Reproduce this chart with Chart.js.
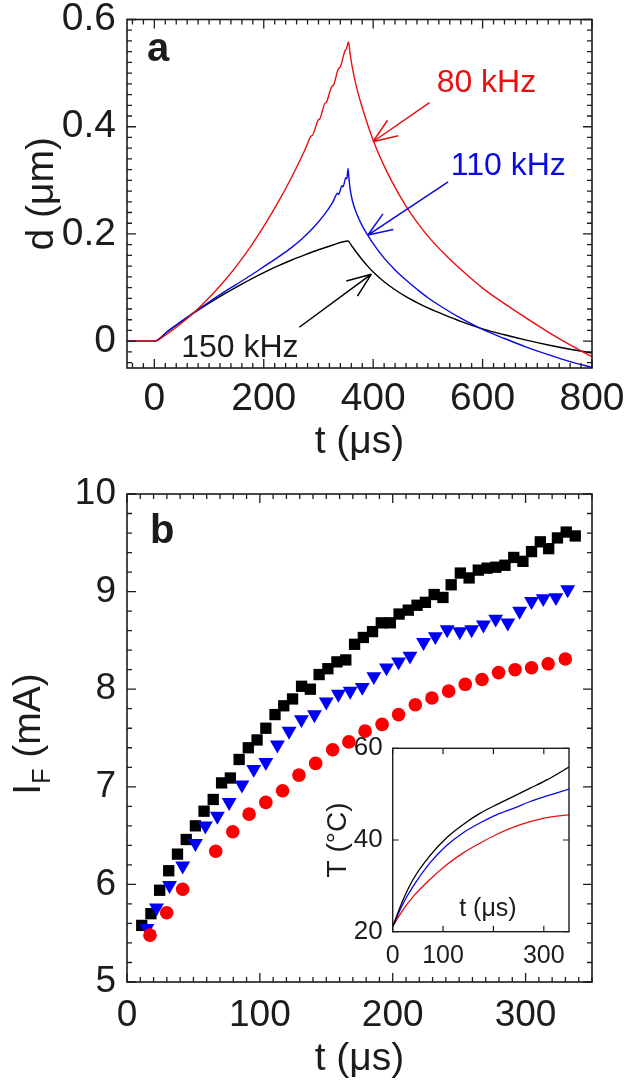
<!DOCTYPE html>
<html><head><meta charset="utf-8">
<script src="https://cdn.jsdelivr.net/npm/chart.js@4.4.1/dist/chart.umd.min.js"></script>
<style>
html,body{margin:0;padding:0;background:#fff;}
#wrap{position:relative;width:625px;height:1083px;overflow:hidden;background:#fff;}
canvas{position:absolute;}
</style></head><body>
<div id="wrap">
<canvas id="ca" width="625" height="470" style="left:0;top:0"></canvas>
<canvas id="cb" width="625" height="613" style="left:0;top:470px"></canvas>
<canvas id="ci" width="290" height="270" style="left:300px;top:720px"></canvas>
</div>
<script>
// ---------------- Panel a : displacement d (µm) vs t (µs) ----------------
const tRedA  = [-50, 0, 25, 50, 75, 100, 125, 150, 175, 200, 225, 250, 275, 287, 289, 300, 302, 312, 314, 325, 327, 337, 339, 349, 351, 355, 358, 362, 370, 380, 400, 420, 440, 460, 480, 500, 530, 560, 600, 640, 680, 720, 760, 800];
const dRedA  = [0, 0, 0.015, 0.034, 0.056, 0.081, 0.109, 0.14, 0.175, 0.214, 0.257, 0.304, 0.356, 0.383, 0.384, 0.413, 0.414, 0.444, 0.445, 0.476, 0.477, 0.509, 0.510, 0.543, 0.545, 0.558, 0.535, 0.51, 0.472, 0.436, 0.375, 0.327, 0.287, 0.252, 0.222, 0.196, 0.163, 0.134, 0.099, 0.07, 0.043, 0.017, -0.007, -0.029];
const tBlueA = [-50, 0, 25, 50, 75, 100, 125, 150, 175, 200, 225, 250, 270, 290, 310, 326, 335, 337, 343, 345, 350, 352, 354, 356, 358, 362, 369, 380, 390, 400, 420, 440, 460, 480, 500, 530, 560, 600, 640, 680, 720, 760, 800];
const dBlueA = [0, 0, 0.019, 0.0375, 0.0555, 0.073, 0.09, 0.106, 0.122, 0.139, 0.156, 0.174, 0.191, 0.211, 0.235, 0.259, 0.276, 0.274, 0.29, 0.288, 0.305, 0.303, 0.322, 0.3, 0.283, 0.262, 0.24, 0.215, 0.198, 0.182, 0.155, 0.133, 0.114, 0.097, 0.081, 0.061, 0.043, 0.022, 0.005, -0.011, -0.025, -0.038, -0.049];
const tBlackA = [-50, 0, 25, 50, 75, 100, 125, 150, 175, 200, 225, 250, 275, 300, 325, 354, 360, 370, 380, 390, 400, 420, 440, 460, 480, 500, 530, 560, 600, 640, 680, 720, 760, 800];
const dBlackA = [0, 0, 0.019, 0.037, 0.0545, 0.071, 0.0865, 0.101, 0.115, 0.128, 0.14, 0.151, 0.161, 0.1705, 0.179, 0.187, 0.179, 0.165, 0.152, 0.14, 0.129, 0.111, 0.096, 0.083, 0.072, 0.062, 0.049, 0.037, 0.023, 0.012, 0.002, -0.007, -0.015, -0.022];
const xTicksA = [0, 200, 400, 600, 800];
const yTicksA = [0, 0.2, 0.4, 0.6];
const yTickLabelsA = ['0', '0.2', '0.4', '0.6'];
const freqLabels = ['80 kHz', '110 kHz', '150 kHz'];

// ---------------- Panel b : I_F (mA) vs t (µs) ----------------
const tSquares = [11.1, 18, 24.6, 31.4, 38, 44.6, 51.5, 58, 64.9, 71.2, 77.8, 84.4, 91.3, 97.9, 104.5, 111.4, 118, 124.6, 131.4, 138, 144.6, 151.2, 158, 164.7, 171.3, 177.9, 184.8, 191.4, 198.2, 204.8, 211.7, 218.3, 224.6, 231.2, 237.8, 244, 250.9, 257.5, 264.4, 271, 277.6, 284.5, 291.1, 298, 304.5, 311.1, 317.4, 324, 330.6, 337.4];
const iSquares = [5.58, 5.70, 5.94, 6.14, 6.31, 6.46, 6.60, 6.75, 6.87, 7.04, 7.09, 7.28, 7.40, 7.48, 7.60, 7.74, 7.83, 7.90, 8.03, 8.00, 8.15, 8.21, 8.28, 8.30, 8.46, 8.53, 8.59, 8.68, 8.68, 8.77, 8.81, 8.86, 8.89, 8.97, 8.94, 9.07, 9.19, 9.14, 9.22, 9.24, 9.25, 9.27, 9.35, 9.31, 9.41, 9.51, 9.44, 9.55, 9.61, 9.57];
const tTriangles = [15, 22.2, 32, 41.9, 51.5, 59, 68, 76.9, 86.5, 95.4, 104.5, 113.2, 122, 131.3, 141.1, 150, 159.1, 168, 177.1, 185.8, 195.3, 204.4, 213, 223.2, 232.1, 241, 250.5, 259.4, 268.3, 277.5, 286.6, 295.5, 304.5, 313.3, 322.8, 331.7];
const iTriangles = [5.55, 5.76, 5.99, 6.19, 6.42, 6.60, 6.70, 6.84, 7.02, 7.18, 7.25, 7.43, 7.57, 7.69, 7.74, 7.87, 7.95, 7.98, 8.02, 8.13, 8.22, 8.28, 8.34, 8.48, 8.54, 8.61, 8.59, 8.61, 8.66, 8.72, 8.68, 8.80, 8.90, 8.93, 8.94, 9.02];
const tCircles = [17.3, 29.9, 41.9, 66.8, 79.6, 91.9, 104.5, 117.1, 129.4, 142, 154.8, 167, 179.2, 192, 204.4, 217, 229.5, 242.1, 254.6, 267.2, 279.7, 292.1, 304.5, 317, 329.9];
const iCircles = [5.48, 5.71, 5.95, 6.34, 6.54, 6.72, 6.84, 6.96, 7.12, 7.24, 7.38, 7.46, 7.57, 7.64, 7.74, 7.84, 7.91, 7.98, 8.05, 8.10, 8.17, 8.20, 8.22, 8.26, 8.31];
const xTicksB = [0, 100, 200, 300];
const yTicksB = [5, 6, 7, 8, 9, 10];

// ---------------- Inset : T (°C) vs t (µs) ----------------
const tInset = [0, 20, 41, 74, 107, 140, 173, 206, 240, 273, 306, 350];
const TBlackIn = [21.1, 26.8, 31.5, 36.6, 40.5, 43.4, 45.8, 47.7, 49.5, 51.3, 53.1, 55.9];
const TBlueIn  = [21.1, 26.0, 30.0, 35.0, 38.8, 41.6, 43.7, 45.5, 46.9, 48.4, 49.6, 51.1];
const TRedIn   = [21.1, 24.7, 27.7, 31.4, 34.6, 37.2, 39.3, 41.2, 42.8, 44.0, 44.9, 45.5];
const xTicksIn = [0, 100, 200, 300];
const xTickLabelsIn = ['0', '100', '', '300'];
const yTicksIn = [20, 40, 60];

// ---------------- helpers & styles ----------------
const FAM = '"Liberation Sans", Arial, Helvetica, sans-serif';
const INK = '#1c1c1c';
const RED_LINE = 'rgb(232,16,16)', BLUE_LINE = 'rgb(10,10,225)', BLACK_LINE = '#000';
const RED_MK = 'rgb(250,0,0)', BLUE_MK = 'rgb(0,0,250)', BLACK_MK = '#000';
const pts = (xs, ys) => xs.map((v, i) => ({x: v, y: ys[i]}));
const setTicks = vals => s => { s.ticks = vals.map(v => ({value: v})); };
const fixBox = (w, h) => s => {
  if (w != null) s.width = w;
  if (h != null) s.height = h;
  s.paddingLeft = 0; s.paddingRight = 0; s.paddingTop = 0; s.paddingBottom = 0;
};

const framePlugin = {
  id: 'frame',
  afterDatasetsDraw(chart, args, o) {
    const {ctx, chartArea: a, scales: {x, y}} = chart;
    const near = (v, arr) => arr.some(m => Math.abs(m - v) < 1e-6);
    const collect = (scale, step) => {
      const maj = scale.ticks.map(t => t.value);
      const out = maj.map(v => [v, o.major]);
      if (step) {
        for (let k = Math.ceil(scale.min / step - 1e-6); k * step <= scale.max + 1e-9; k++) {
          const v = k * step;
          if (!near(v, maj)) out.push([v, o.minor]);
        }
      }
      return out;
    };
    ctx.save();
    ctx.strokeStyle = INK;
    ctx.lineWidth = o.tickWidth;
    ctx.beginPath();
    collect(x, o.xMinor).forEach(([v, len]) => {
      const p = x.getPixelForValue(v);
      ctx.moveTo(p, a.bottom); ctx.lineTo(p, a.bottom - len);
      ctx.moveTo(p, a.top); ctx.lineTo(p, a.top + len);
    });
    collect(y, o.yMinor).forEach(([v, len]) => {
      const p = y.getPixelForValue(v);
      ctx.moveTo(a.left, p); ctx.lineTo(a.left + len, p);
      ctx.moveTo(a.right, p); ctx.lineTo(a.right - len, p);
    });
    ctx.stroke();
    ctx.lineWidth = o.borderWidth;
    ctx.strokeRect(a.left, a.top, a.right - a.left, a.bottom - a.top);
    ctx.restore();
  }
};

const notesPlugin = {
  id: 'notes',
  afterDatasetsDraw(chart, args, o) {
    const {ctx, chartArea: a, scales: {x, y}} = chart;
    ctx.save();
    (o.arrows || []).forEach(ar => {
      const x1 = x.getPixelForValue(ar.from[0]), y1 = y.getPixelForValue(ar.from[1]);
      const x2 = x.getPixelForValue(ar.to[0]), y2 = y.getPixelForValue(ar.to[1]);
      const ang = Math.atan2(y1 - y2, x1 - x2);
      ctx.strokeStyle = ar.color; ctx.lineWidth = 1.5;
      ctx.beginPath();
      ctx.moveTo(x1, y1); ctx.lineTo(x2, y2);
      [-1, 1].forEach(s => {
        ctx.moveTo(x2, y2);
        ctx.lineTo(x2 + 26 * Math.cos(ang + s * 0.37), y2 + 26 * Math.sin(ang + s * 0.37));
      });
      ctx.stroke();
    });
    (o.labels || []).forEach(l => {
      ctx.font = l.font; ctx.fillStyle = l.color;
      ctx.textAlign = l.align || 'left'; ctx.textBaseline = l.baseline || 'alphabetic';
      ctx.fillText(l.text, x.getPixelForValue(l.at[0]), y.getPixelForValue(l.at[1]));
    });
    if (o.panel) {
      ctx.font = 'bold 40px ' + FAM; ctx.fillStyle = INK;
      ctx.textAlign = 'left'; ctx.textBaseline = 'alphabetic';
      ctx.fillText(o.panel.text, a.left + o.panel.dx, a.top + o.panel.dy);
    }
    if (o.subTitle) {
      const st = o.subTitle;
      ctx.translate(st.x, st.y);
      ctx.rotate(-Math.PI / 2);
      ctx.fillStyle = INK; ctx.textBaseline = 'alphabetic'; ctx.textAlign = 'left';
      const fMain = st.size + 'px ' + FAM, fSub = st.subSize + 'px ' + FAM;
      ctx.font = fMain; const w1 = ctx.measureText(st.main).width; const w3 = ctx.measureText(st.rest).width;
      ctx.font = fSub; const w2 = ctx.measureText(st.sub).width;
      let x0 = -(w1 + w2 + w3) / 2;
      ctx.font = fMain; ctx.fillText(st.main, x0, 0);
      ctx.font = fSub; ctx.fillText(st.sub, x0 + w1, st.subDrop);
      ctx.font = fMain; ctx.fillText(st.rest, x0 + w1 + w2, 0);
    }
    ctx.restore();
  }
};

const baseOpts = (pad) => ({
  responsive: false, animation: false, events: [],
  layout: {padding: pad},
});
const axisFont = size => ({family: FAM, size: size});

// ---------------- Panel a ----------------
new Chart(document.getElementById('ca'), {
  type: 'scatter',
  data: {datasets: [
    {data: pts(tRedA, dRedA), showLine: true, borderColor: RED_LINE, borderWidth: 1.4, pointRadius: 0, cubicInterpolationMode: 'monotone'},
    {data: pts(tBlueA, dBlueA), showLine: true, borderColor: BLUE_LINE, borderWidth: 1.4, pointRadius: 0, cubicInterpolationMode: 'monotone'},
    {data: pts(tBlackA, dBlackA), showLine: true, borderColor: BLACK_LINE, borderWidth: 1.4, pointRadius: 0, cubicInterpolationMode: 'monotone'}
  ]},
  options: Object.assign(baseOpts({left: 0, top: 19.5, right: 33, bottom: 0}), {
    plugins: {
      legend: {display: false}, tooltip: {enabled: false},
      frame: {major: 9, minor: 5, xMinor: 20, yMinor: 0.02, tickWidth: 1.3, borderWidth: 1.6},
      notes: {
        arrows: [
          {from: [503, 0.445], to: [399.6, 0.372], color: RED_LINE},
          {from: [537, 0.297], to: [390.4, 0.198], color: BLUE_LINE},
          {from: [265, 0.026], to: [396.7, 0.125], color: '#000'}
        ],
        labels: [
          {text: freqLabels[0], at: [516, 0.465], color: RED_LINE, font: '32px ' + FAM},
          {text: freqLabels[1], at: [542, 0.31], color: BLUE_LINE, font: '32px ' + FAM},
          {text: freqLabels[2], at: [49, -0.03], color: INK, font: '32px ' + FAM}
        ],
        panel: {text: 'a', dx: 20, dy: 41}
      }
    },
    scales: {
      x: {type: 'linear', min: -50, max: 800, afterBuildTicks: setTicks(xTicksA), afterFit: fixBox(null, 102),
          grid: {display: false, drawTicks: false}, border: {display: false},
          ticks: {font: axisFont(39), color: INK, padding: 8, maxRotation: 0, autoSkip: false},
          title: {display: true, text: 't (μs)', font: axisFont(39), color: INK, padding: {top: 0, bottom: 4}}},
      y: {type: 'linear', min: -0.05, max: 0.6, afterBuildTicks: setTicks(yTicksA), afterFit: fixBox(127, null),
          grid: {display: false, drawTicks: false}, border: {display: false},
          ticks: {font: axisFont(39), color: INK, padding: 11, autoSkip: false, callback: (v, i) => yTickLabelsA[i]},
          title: {display: true, text: 'd (μm)', font: axisFont(39), color: INK, padding: {top: 19, bottom: 0}}}
    }
  }),
  plugins: [framePlugin, notesPlugin]
});

// ---------------- Panel b ----------------
new Chart(document.getElementById('cb'), {
  type: 'scatter',
  data: {datasets: [
    {data: pts(tCircles, iCircles), pointStyle: 'circle', pointRadius: 6.8, backgroundColor: RED_MK, borderWidth: 0, pointBorderWidth: 0},
    {data: pts(tTriangles, iTriangles), pointStyle: 'triangle', rotation: 180, pointRadius: 8.6, backgroundColor: BLUE_MK, borderWidth: 0, pointBorderWidth: 0},
    {data: pts(tSquares, iSquares), pointStyle: 'rect', pointRadius: 8, backgroundColor: BLACK_MK, borderWidth: 0, pointBorderWidth: 0}
  ]},
  options: Object.assign(baseOpts({left: 0, top: 24, right: 33, bottom: 0}), {
    plugins: {
      legend: {display: false}, tooltip: {enabled: false},
      frame: {major: 9, minor: 5, xMinor: 10, yMinor: 0.2, tickWidth: 1.3, borderWidth: 1.6},
      notes: {
        panel: {text: 'b', dx: 23, dy: 49},
        subTitle: {x: 40, y: 264, main: 'I', sub: 'F', rest: ' (mA)', size: 39, subSize: 25, subDrop: 10}
      }
    },
    scales: {
      x: {type: 'linear', min: 0, max: 350, afterBuildTicks: setTicks(xTicksB), afterFit: fixBox(null, 101),
          grid: {display: false, drawTicks: false}, border: {display: false},
          ticks: {font: axisFont(37), color: INK, padding: 12, maxRotation: 0, autoSkip: false},
          title: {display: true, text: 't (μs)', font: axisFont(39), color: INK, padding: {top: 0, bottom: 0}}},
      y: {type: 'linear', min: 5, max: 10, afterBuildTicks: setTicks(yTicksB), afterFit: fixBox(127, null),
          grid: {display: false, drawTicks: false}, border: {display: false},
          ticks: {font: axisFont(37), color: INK, padding: 11, autoSkip: false},
          title: {display: false}}
    }
  }),
  plugins: [framePlugin, notesPlugin]
});

// ---------------- Inset ----------------
new Chart(document.getElementById('ci'), {
  type: 'scatter',
  data: {datasets: [
    {data: pts(tInset, TBlackIn), showLine: true, borderColor: BLACK_LINE, borderWidth: 1.3, pointRadius: 0, cubicInterpolationMode: 'monotone'},
    {data: pts(tInset, TBlueIn), showLine: true, borderColor: BLUE_LINE, borderWidth: 1.3, pointRadius: 0, cubicInterpolationMode: 'monotone'},
    {data: pts(tInset, TRedIn), showLine: true, borderColor: RED_LINE, borderWidth: 1.3, pointRadius: 0, cubicInterpolationMode: 'monotone'}
  ]},
  options: Object.assign(baseOpts({left: 0, top: 28.3, right: 21, bottom: 0}), {
    plugins: {
      legend: {display: false}, tooltip: {enabled: false},
      frame: {major: 6, minor: 0, xMinor: 0, yMinor: 0, tickWidth: 1.2, borderWidth: 1.4},
      notes: {
        labels: [{text: 't (μs)', at: [189, 24.9], color: INK, font: '25px ' + FAM, align: 'center', baseline: 'middle'}]
      }
    },
    scales: {
      x: {type: 'linear', min: 0, max: 350, afterBuildTicks: setTicks(xTicksIn), afterFit: fixBox(null, 58.3),
          grid: {display: false, drawTicks: false}, border: {display: false},
          ticks: {font: axisFont(25), color: INK, padding: 9, maxRotation: 0, autoSkip: false, callback: (v, i) => xTickLabelsIn[i]},
          title: {display: false}},
      y: {type: 'linear', min: 20, max: 60, afterBuildTicks: setTicks(yTicksIn), afterFit: fixBox(92.7, null),
          grid: {display: false, drawTicks: false}, border: {display: false},
          ticks: {font: axisFont(26), color: INK, padding: 10, autoSkip: false},
          title: {display: true, text: 'T (°C)', font: axisFont(28), color: INK, padding: {top: 21, bottom: 0}}}
    }
  }),
  plugins: [framePlugin, notesPlugin]
});
</script>
</body></html>
